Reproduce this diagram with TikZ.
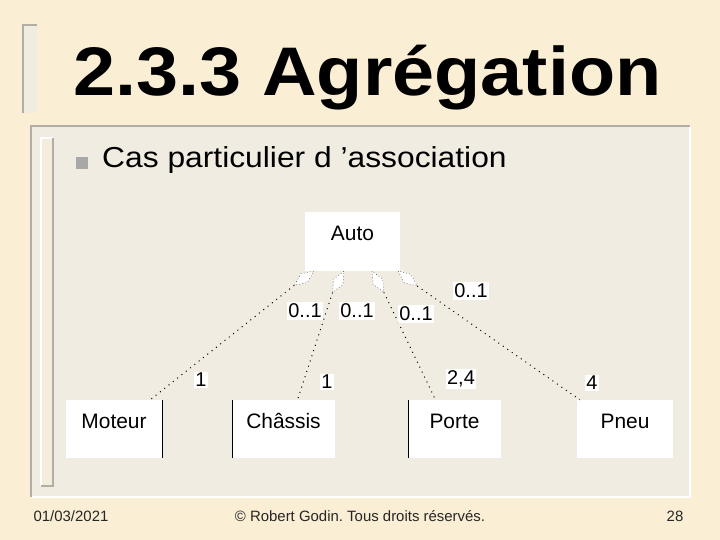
\documentclass[tikz,border=0pt]{standalone}
\usepackage{fontspec}
\setmainfont{Liberation Sans}
\usetikzlibrary{shapes.geometric}
\frenchspacing

\definecolor{parchment}{RGB}{250,238,212}
\definecolor{panel}{RGB}{240,236,226}
\definecolor{rim}{RGB}{178,174,166}
\definecolor{bulletgray}{RGB}{168,168,168}

\begin{document}
\begin{tikzpicture}[x=1bp,y=-1bp,
    class/.style={fill=white,inner xsep=0pt,inner ysep=3bp,text height=25bp,text depth=27bp,font=\fontsize{21}{24}\selectfont},
    agg/.style={diamond,aspect=2,draw=black!75,dash pattern=on 0.9bp off 2.2bp,fill=white,minimum width=24bp,minimum height=11bp,inner sep=0pt},
    link/.style={draw=black,dash pattern=on 1bp off 4.5bp,line width=1bp},
    mult/.style={fill=white,inner sep=1.5bp,font=\fontsize{20}{22}\selectfont}]

  \useasboundingbox (0,0) rectangle (720,540);
  \fill[parchment] (0,0) rectangle (720,540);

  % slide frame
  \fill[panel] (22,24) rectangle (37,113);
  \draw[rim,line width=2bp] (23,113) -- (23,25) -- (37,25);
  \fill[panel] (30,125) rectangle (690,497);
  \draw[white,line width=2bp] (31,497) -- (690,497) -- (690,126);
  \draw[rim,line width=2.5bp] (31,497) -- (31,126) -- (690,126);
  \fill[parchment!50!panel] (40,137) rectangle (54,486);
  \draw[white,line width=1.5bp] (41,486) -- (41,138) -- (53,138);
  \draw[rim,line width=1.5bp] (41,486) -- (53,486) -- (53,138);

  % title and bullet
  \node[anchor=base west,font=\fontsize{69}{76}\selectfont\bfseries,xscale=1.1,inner sep=0pt] (title) at (73,96) {2.3.3 Agrégation};
  \fill[bulletgray] (76,157) rectangle (88,169);
  \node[anchor=base west,font=\fontsize{29}{34}\selectfont,xscale=1.1,inner sep=0pt] (item) at (102,168) {Cas particulier d ’association};

  % classes
  \node[class,minimum width=95bp] (auto) at (352.5,241.5) {Auto};
  \node[class,minimum width=96bp] (moteur) at (114,429) {Moteur};
  \node[class,minimum width=103bp] (chassis) at (283.5,429) {Châssis};
  \node[class,minimum width=93bp] (porte) at (454.5,429) {Porte};
  \node[class,minimum width=96bp] (pneu) at (625,429) {Pneu};

  \draw[black] (moteur.north east) -- (moteur.south east);
  \draw[black] (chassis.north west) -- (chassis.south west);
  \draw[black] (porte.north west) -- (porte.south west);

  % aggregation diamonds
  \node[agg,rotate=36,anchor=east] (d1) at (314,271) {};
  \node[agg,rotate=62,anchor=east] (d2) at (344,271) {};
  \node[agg,rotate=119,anchor=east] (d3) at (372,271) {};
  \node[agg,rotate=142,anchor=east] (d4) at (398,271) {};

  \path[link] (d1.west) edge ([xshift=-12bp]moteur.north east)
              (d2.west) edge ([xshift=14bp]chassis.north)
              (d3.west) edge ([xshift=-19bp]porte.north)
              (d4.west) edge ([xshift=3bp]pneu.north west);

  % multiplicities
  \node[mult] (m1) at (305,311) {0..1};
  \node[mult] (m2) at (357,311) {0..1};
  \node[mult] (m3) at (416,314) {0..1};
  \node[mult] (m4) at (471,291) {0..1};
  \node[mult] (n1) at (201,380) {1};
  \node[mult] (n2) at (327,382) {1};
  \node[mult] (n3) at (461,379) {2,4};
  \node[mult] (n4) at (592,383) {4};

  % footer
  \node[font=\fontsize{15}{18}\selectfont,text=black!85] (date) at (71,516) {01/03/2021};
  \node[font=\fontsize{15}{18}\selectfont,text=black!85] (copy) at (360,516) {© Robert Godin. Tous droits réservés.};
  \node[font=\fontsize{15}{18}\selectfont,text=black!85] (page) at (675,516) {28};
\end{tikzpicture}
\end{document}
